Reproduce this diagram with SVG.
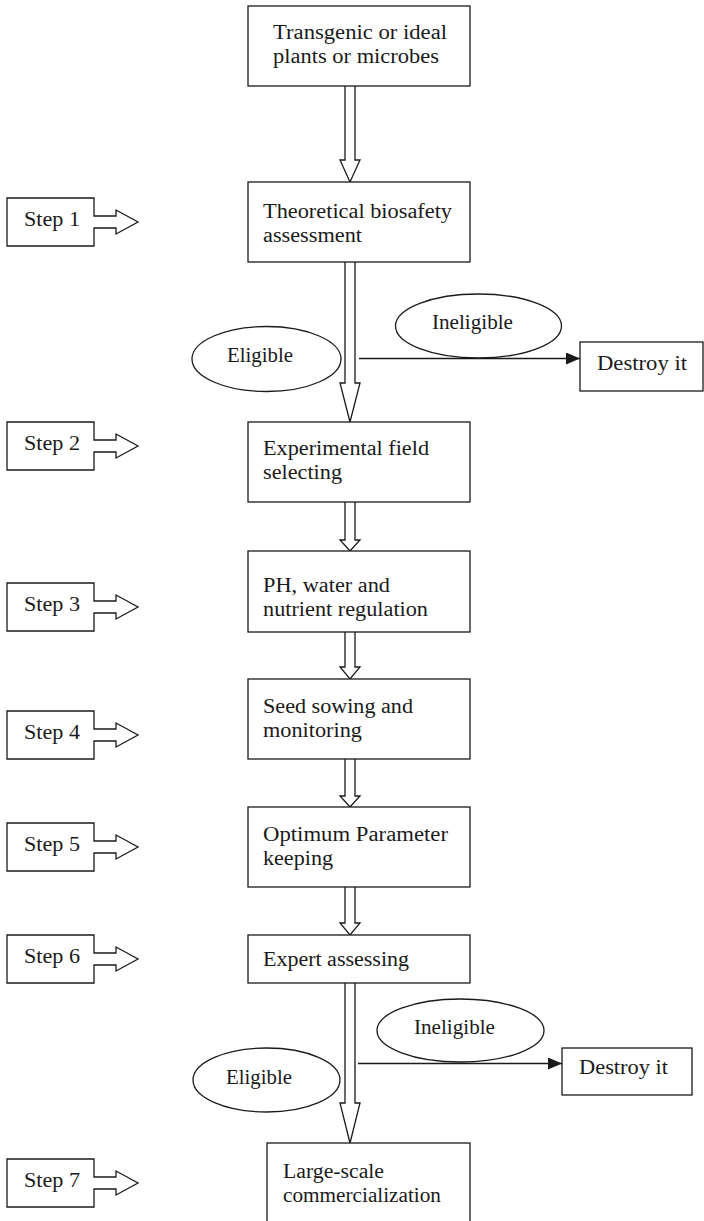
<svg xmlns="http://www.w3.org/2000/svg" width="704" height="1221" viewBox="0 0 704 1221">
<style>
.bx{fill:#fff;stroke:#1a1a1a;stroke-width:1.3}
.el{fill:#fff;stroke:#1a1a1a;stroke-width:1.3}
.ba{fill:#fff;stroke:#1a1a1a;stroke-width:1.3;stroke-linejoin:miter}
.ln{fill:none;stroke:#1a1a1a;stroke-width:1.3}
text{font-family:"Liberation Serif","Times New Roman",serif;font-size:20px;fill:#1a1a1a}
</style>
<defs>
<marker id="ah" markerWidth="14" markerHeight="12" refX="14" refY="6" orient="auto" markerUnits="userSpaceOnUse">
<path d="M0,0 L14,6 L0,12 Z" fill="#1a1a1a"/>
</marker>
</defs>
<rect width="704" height="1221" fill="#fff"/>

<g id="connectors">
<path class="ba" d="M345,86 V160 H340 L350,182 L360,160 H355 V86"/>
<path class="ba" d="M345,262 V383 H340 L350,422 L360,383 H355 V262"/>
<path class="ba" d="M345,502 V540 H340 L350,551 L360,540 H355 V502"/>
<path class="ba" d="M345,632 V667 H340 L350,679 L360,667 H355 V632"/>
<path class="ba" d="M345,759 V796 H340 L350,807 L360,796 H355 V759"/>
<path class="ba" d="M345,887 V923 H340 L350,935 L360,923 H355 V887"/>
<path class="ba" d="M345,983 V1103 H340 L350,1143 L360,1103 H355 V983"/>
<line class="ln" x1="359" y1="358.5" x2="580" y2="358.5" marker-end="url(#ah)"/>
<line class="ln" x1="358" y1="1063.5" x2="562" y2="1063.5" marker-end="url(#ah)"/>
</g>

<g id="n-transgenic">
<rect class="bx" x="248" y="6" width="222" height="80"/>
<text x="273" y="39" textLength="174" lengthAdjust="spacingAndGlyphs">Transgenic or ideal</text>
<text x="273" y="63" textLength="166" lengthAdjust="spacingAndGlyphs">plants or microbes</text>
</g>
<g id="n-theoretical">
<rect class="bx" x="248" y="182" width="222" height="80"/>
<text x="263" y="218" textLength="189" lengthAdjust="spacingAndGlyphs">Theoretical biosafety</text>
<text x="263" y="242" textLength="99" lengthAdjust="spacingAndGlyphs">assessment</text>
</g>
<g id="n-experimental">
<rect class="bx" x="248" y="422" width="222" height="80"/>
<text x="263" y="455" textLength="166" lengthAdjust="spacingAndGlyphs">Experimental field</text>
<text x="263" y="479" textLength="79" lengthAdjust="spacingAndGlyphs">selecting</text>
</g>
<g id="n-ph">
<rect class="bx" x="248" y="551" width="222" height="81"/>
<text x="263" y="592" textLength="127" lengthAdjust="spacingAndGlyphs">PH, water and</text>
<text x="263" y="616" textLength="165" lengthAdjust="spacingAndGlyphs">nutrient regulation</text>
</g>
<g id="n-seed">
<rect class="bx" x="248" y="679" width="222" height="80"/>
<text x="263" y="713" textLength="150" lengthAdjust="spacingAndGlyphs">Seed sowing and</text>
<text x="263" y="737" textLength="99" lengthAdjust="spacingAndGlyphs">monitoring</text>
</g>
<g id="n-optimum">
<rect class="bx" x="248" y="807" width="222" height="80"/>
<text x="263" y="841" textLength="185" lengthAdjust="spacingAndGlyphs">Optimum Parameter</text>
<text x="263" y="865" textLength="70" lengthAdjust="spacingAndGlyphs">keeping</text>
</g>
<g id="n-expert">
<rect class="bx" x="248" y="935" width="222" height="48"/>
<text x="263" y="966" textLength="146" lengthAdjust="spacingAndGlyphs">Expert assessing</text>
</g>
<g id="n-large">
<rect class="bx" x="267" y="1143" width="203" height="90"/>
<text x="283" y="1178" textLength="101" lengthAdjust="spacingAndGlyphs">Large-scale</text>
<text x="283" y="1202" textLength="158" lengthAdjust="spacingAndGlyphs">commercialization</text>
</g>

<g id="n-eligible1">
<ellipse class="el" cx="266.5" cy="359" rx="74.5" ry="32.5"/>
<text x="227" y="362" textLength="66" lengthAdjust="spacingAndGlyphs">Eligible</text>
</g>
<g id="n-ineligible1">
<ellipse class="el" cx="478.5" cy="326" rx="83" ry="32"/>
<text x="432" y="329" textLength="81" lengthAdjust="spacingAndGlyphs">Ineligible</text>
</g>
<g id="n-destroy1">
<rect class="bx" x="580" y="342" width="123" height="49"/>
<text x="597" y="370" textLength="90" lengthAdjust="spacingAndGlyphs">Destroy it</text>
</g>
<g id="n-eligible2">
<ellipse class="el" cx="266.5" cy="1080" rx="73.5" ry="32"/>
<text x="226" y="1083.5" textLength="66" lengthAdjust="spacingAndGlyphs">Eligible</text>
</g>
<g id="n-ineligible2">
<ellipse class="el" cx="460.5" cy="1030.5" rx="83.5" ry="31.5"/>
<text x="414" y="1034" textLength="81" lengthAdjust="spacingAndGlyphs">Ineligible</text>
</g>
<g id="n-destroy2">
<rect class="bx" x="562" y="1048" width="130" height="47"/>
<text x="579" y="1074" textLength="89" lengthAdjust="spacingAndGlyphs">Destroy it</text>
</g>

<g id="n-step1">
<path class="ba" d="M7,198 H94 V216 H116 V210 L138,222 L116,234 V228 H94 V246 H7 Z"/>
<text x="24" y="225.5" textLength="56" lengthAdjust="spacingAndGlyphs">Step 1</text>
</g>
<g id="n-step2">
<path class="ba" d="M7,422 H94 V440 H116 V434 L138,446 L116,458 V452 H94 V470 H7 Z"/>
<text x="24" y="449.5" textLength="56" lengthAdjust="spacingAndGlyphs">Step 2</text>
</g>
<g id="n-step3">
<path class="ba" d="M7,583 H94 V601 H116 V595 L138,607 L116,619 V613 H94 V631 H7 Z"/>
<text x="24" y="610.5" textLength="56" lengthAdjust="spacingAndGlyphs">Step 3</text>
</g>
<g id="n-step4">
<path class="ba" d="M7,711 H94 V729 H116 V723 L138,735 L116,747 V741 H94 V759 H7 Z"/>
<text x="24" y="738.5" textLength="56" lengthAdjust="spacingAndGlyphs">Step 4</text>
</g>
<g id="n-step5">
<path class="ba" d="M7,823 H94 V841 H116 V835 L138,847 L116,859 V853 H94 V871 H7 Z"/>
<text x="24" y="850.5" textLength="56" lengthAdjust="spacingAndGlyphs">Step 5</text>
</g>
<g id="n-step6">
<path class="ba" d="M7,935 H94 V953 H116 V947 L138,959 L116,971 V965 H94 V983 H7 Z"/>
<text x="24" y="962.5" textLength="56" lengthAdjust="spacingAndGlyphs">Step 6</text>
</g>
<g id="n-step7">
<path class="ba" d="M7,1159 H94 V1177 H116 V1171 L138,1183 L116,1195 V1189 H94 V1207 H7 Z"/>
<text x="24" y="1186.5" textLength="56" lengthAdjust="spacingAndGlyphs">Step 7</text>
</g>
</svg>
